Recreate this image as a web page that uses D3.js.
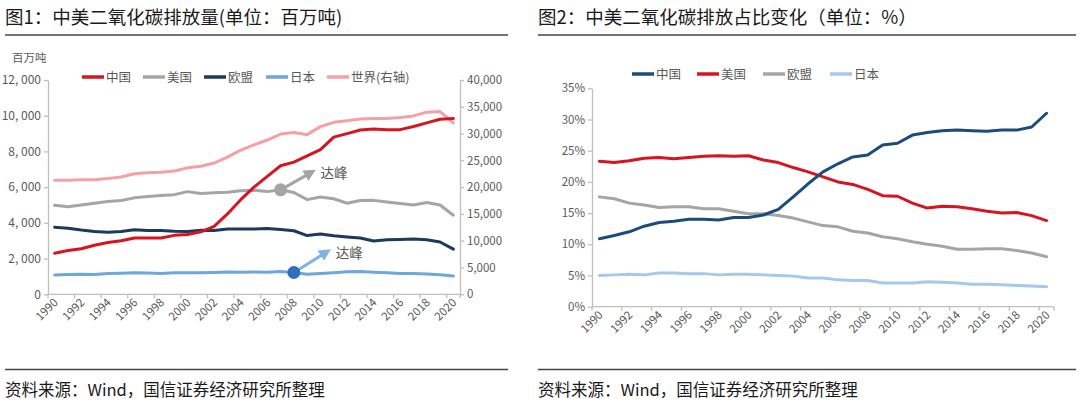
<!DOCTYPE html>
<html>
<head>
<meta charset="utf-8">
<script src="https://cdn.jsdelivr.net/npm/d3@7"></script>
<style>
  body { margin: 0; background: #fff; }
  text { font-family: "Noto Sans CJK SC", "Noto Sans", sans-serif; }
</style>
</head>
<body>
<div id="container"></div>
<script>
// ---- data ----
let years = d3.range(1990, 2021);

// chart 1, million tonnes
let chinaMt = [2300, 2450, 2550, 2750, 2900, 3000, 3150, 3150, 3150, 3300, 3350, 3500, 3800, 4500, 5300, 6000,
  6600, 7200, 7400, 7750, 8100, 8800, 9000, 9200, 9250, 9220, 9220, 9400, 9600, 9800, 9850];
let usMt = [4980, 4900, 5000, 5100, 5200, 5250, 5400, 5480, 5530, 5580, 5750, 5650, 5680, 5720, 5800, 5830,
  5750, 5850, 5700, 5300, 5450, 5350, 5100, 5250, 5260, 5170, 5080, 5000, 5140, 5000, 4430];
let euMt = [3760, 3700, 3600, 3520, 3480, 3520, 3610, 3570, 3570, 3530, 3520, 3580, 3570, 3660, 3660, 3650,
  3680, 3630, 3560, 3290, 3380, 3280, 3210, 3150, 2980, 3050, 3070, 3100, 3060, 2930, 2530];
let japanMt = [1080, 1110, 1120, 1110, 1170, 1180, 1200, 1190, 1160, 1200, 1210, 1200, 1220, 1250, 1240, 1250,
  1230, 1270, 1220, 1120, 1170, 1210, 1260, 1270, 1230, 1200, 1170, 1160, 1130, 1100, 1020];
let worldMt = [21300, 21300, 21400, 21400, 21600, 21900, 22500, 22700, 22800, 23000, 23600, 23900, 24500, 25600, 26900, 27900,
  28800, 29900, 30200, 29800, 31300, 32100, 32400, 32700, 32800, 32800, 33000, 33300, 34000, 34100, 32000];

// chart 2, share of world (%)
let chinaPct = [10.9, 11.4, 12.0, 12.9, 13.5, 13.7, 14.0, 14.0, 13.9, 14.3, 14.3, 14.7, 15.6, 17.6, 19.7, 21.6,
  22.9, 24.0, 24.3, 25.9, 26.2, 27.5, 27.9, 28.2, 28.3, 28.2, 28.1, 28.3, 28.3, 28.8, 31.0];
let usPct = [23.3, 23.1, 23.4, 23.8, 23.9, 23.7, 23.9, 24.1, 24.2, 24.1, 24.2, 23.5, 23.1, 22.3, 21.6, 20.8,
  20.0, 19.6, 18.8, 17.8, 17.7, 16.6, 15.8, 16.1, 16.0, 15.7, 15.3, 15.0, 15.1, 14.6, 13.8];
let euPct = [17.6, 17.3, 16.6, 16.3, 15.9, 16.0, 16.0, 15.7, 15.7, 15.3, 14.9, 14.9, 14.6, 14.2, 13.6, 13.0,
  12.8, 12.1, 11.8, 11.2, 10.9, 10.4, 10.0, 9.7, 9.2, 9.2, 9.3, 9.3, 9.0, 8.6, 8.0];
let japanPct = [5.0, 5.1, 5.2, 5.1, 5.4, 5.4, 5.3, 5.3, 5.1, 5.2, 5.2, 5.1, 5.0, 4.9, 4.6, 4.6,
  4.3, 4.2, 4.2, 3.8, 3.8, 3.8, 4.0, 3.9, 3.8, 3.6, 3.6, 3.5, 3.4, 3.3, 3.2];

let leftTicks = [0, 2000, 4000, 6000, 8000, 10000, 12000];
let rightTicks = [0, 5000, 10000, 15000, 20000, 25000, 30000, 35000, 40000];
let pctTicks = [0, 5, 10, 15, 20, 25, 30, 35];

let title1 = "图1：中美二氧化碳排放量(单位：百万吨)";
let title2 = "图2：中美二氧化碳排放占比变化（单位：%）";
let source = "资料来源：Wind，国信证券经济研究所整理";
let peakLabel = "达峰";

let w = 1080;
let h = 406;
let axisGray = "#bfbfbf";
let labelGray = "#595959";

let svg = d3.select("#container")
  .append("svg")
    .attr("width", w)
    .attr("height", h)
    .style("background-color", "#fff");

// frames: titles, rules, source
function frame(x0, x1, title) {
  svg.append("text").attr("x", x0).attr("y", 24)
    .attr("font-size", 18.5).attr("fill", "#1a1a1a").text(title);
  svg.append("line").attr("x1", x0).attr("x2", x1).attr("y1", 35).attr("y2", 35)
    .attr("stroke", "#444").attr("stroke-width", 1.3);
  svg.append("line").attr("x1", x0).attr("x2", x1).attr("y1", 369.5).attr("y2", 369.5)
    .attr("stroke", "#444").attr("stroke-width", 1.3);
  svg.append("text").attr("x", x0).attr("y", 396)
    .attr("font-size", 16.5).attr("fill", "#1a1a1a").text(source);
}
frame(5, 508, title1);
frame(538, 1076, title2);

function xAxis(g, x, y0) {
  let [r0, r1] = x.range();
  g.append("line").attr("x1", r0).attr("x2", r1).attr("y1", y0).attr("y2", y0)
    .attr("stroke", axisGray).attr("stroke-width", 1.3);
  years.forEach((yr, i) => {
    if (i % 2 == 0) {
      let bx = x(yr);
      g.append("line").attr("x1", bx).attr("x2", bx).attr("y1", y0).attr("y2", y0 + 4)
        .attr("stroke", axisGray).attr("stroke-width", 1.3);
      let cx = x(yr) + x.bandwidth() / 2;
      g.append("text")
        .attr("transform", `translate(${cx + 4},${y0 + 9}) rotate(-45)`)
        .attr("text-anchor", "end")
        .attr("font-family", "Liberation Sans")
        .attr("font-size", 11.5)
        .attr("fill", labelGray)
        .text(yr);
    }
  });
  g.append("line").attr("x1", r1).attr("x2", r1).attr("y1", y0).attr("y2", y0 + 4)
    .attr("stroke", axisGray).attr("stroke-width", 1.3);
}

function styleAxis(g) {
  g.select(".domain").attr("stroke", axisGray).attr("stroke-width", 1.3);
  g.selectAll(".tick line").attr("stroke", axisGray).attr("stroke-width", 1.3);
  g.selectAll(".tick text").attr("fill", labelGray);
}

function legend(g, items, x0, y0, gaps) {
  let xx = x0;
  items.forEach((it, i) => {
    g.append("line").attr("x1", xx).attr("x2", xx + 22).attr("y1", y0).attr("y2", y0)
      .attr("stroke", it.color).attr("stroke-width", 3.5);
    g.append("text").attr("x", xx + 24).attr("y", y0 + 4.5)
      .attr("font-size", 12.5).attr("fill", labelGray).text(it.name);
    xx += gaps[i];
  });
}

function drawLine(g, x, y, values, color) {
  let line = d3.line()
    .x((d, i) => x(years[i]) + x.bandwidth() / 2)
    .y(d => y(d));
  g.append("path").datum(values)
    .attr("d", line)
    .attr("fill", "none")
    .attr("stroke", color)
    .attr("stroke-width", 3)
    .attr("stroke-linejoin", "round")
    .attr("stroke-linecap", "round");
}

// ---------- chart 1 ----------
let c1 = svg.append("g");
let x1 = d3.scaleBand().domain(years).range([48, 460]);
let yL = d3.scaleLinear().domain([0, 12000]).range([294.3, 80]);
let yR = d3.scaleLinear().domain([0, 40000]).range([294.3, 80]);

let leftAx = c1.append("g").attr("transform", "translate(48,0)")
  .call(d3.axisLeft(yL).tickValues(leftTicks).tickSize(4).tickSizeOuter(0)
    .tickFormat(d => d3.format(",")(d).replace(",", ", ")))
  .call(styleAxis);
leftAx.selectAll(".tick text").attr("font-size", 12).attr("font-family", "Noto Sans CJK SC");

let rightAx = c1.append("g").attr("transform", "translate(460,0)")
  .call(d3.axisRight(yR).tickValues(rightTicks).tickSize(4).tickSizeOuter(0)
    .tickFormat(d3.format(",")))
  .call(styleAxis);
rightAx.selectAll(".tick text").attr("font-size", 11.5).attr("font-family", "Liberation Sans");

xAxis(c1, x1, 294.3);

c1.append("text").attr("x", 12).attr("y", 62).attr("font-size", 11.5)
  .attr("fill", labelGray).text("百万吨");

let colChina1 = "#d7141f", colUS1 = "#a5a5a5", colEU1 = "#1b3a5c", colJP1 = "#6fa6dc", colWorld = "#f5a0a6";
drawLine(c1, x1, yR, worldMt, colWorld);
drawLine(c1, x1, yL, japanMt, colJP1);
drawLine(c1, x1, yL, euMt, colEU1);
drawLine(c1, x1, yL, usMt, colUS1);
drawLine(c1, x1, yL, chinaMt, colChina1);

legend(c1, [
  {name: "中国", color: colChina1},
  {name: "美国", color: colUS1},
  {name: "欧盟", color: colEU1},
  {name: "日本", color: colJP1},
  {name: "世界(右轴)", color: colWorld}
], 82, 77, [61, 61, 62, 61, 0]);

// peak markers
function peak(g, x, y, yr, val, fill, arrowColor, dx, dy, id) {
  let px = x(yr) + x.bandwidth() / 2, py = y(val);
  g.append("defs").append("marker")
    .attr("id", id).attr("viewBox", "0 0 10 10").attr("refX", 5).attr("refY", 5)
    .attr("markerWidth", 4).attr("markerHeight", 4).attr("orient", "auto")
    .append("path").attr("d", "M0,0L10,5L0,10z").attr("fill", arrowColor);
  g.append("line").attr("x1", px).attr("y1", py).attr("x2", px + dx).attr("y2", py + dy)
    .attr("stroke", arrowColor).attr("stroke-width", 3)
    .attr("marker-end", `url(#${id})`);
  g.append("circle").attr("cx", px).attr("cy", py).attr("r", 6.5).attr("fill", fill);
  g.append("text").attr("x", px + dx + 10).attr("y", py + dy + 5)
    .attr("font-size", 13.5).attr("fill", labelGray).text(peakLabel);
}
peak(c1, x1, yL, 2007, usMt[17], "#a5a5a5", "#a5a5a5", 30, -17, "arrG");
peak(c1, x1, yL, 2008, japanMt[18], "#2e6fb5", "#7fb2e5", 32, -20, "arrB");

// ---------- chart 2 ----------
let c2 = svg.append("g");
let x2 = d3.scaleBand().domain(years).range([592, 1054]);
let y2 = d3.scaleLinear().domain([0, 35]).range([306.7, 88.3]);

let pctAx = c2.append("g").attr("transform", "translate(592,0)")
  .call(d3.axisLeft(y2).tickValues(pctTicks).tickSize(4).tickSizeOuter(0)
    .tickFormat(d => d + "%"))
  .call(styleAxis);
pctAx.selectAll(".tick text").attr("font-size", 11.5).attr("font-family", "Liberation Sans");

xAxis(c2, x2, 306.7);

let colChina2 = "#1c4c7c", colUS2 = "#d7141f", colEU2 = "#a5a5a5", colJP2 = "#a6c8ea";
drawLine(c2, x2, y2, japanPct, colJP2);
drawLine(c2, x2, y2, euPct, colEU2);
drawLine(c2, x2, y2, usPct, colUS2);
drawLine(c2, x2, y2, chinaPct, colChina2);

legend(c2, [
  {name: "中国", color: colChina2},
  {name: "美国", color: colUS2},
  {name: "欧盟", color: colEU2},
  {name: "日本", color: colJP2}
], 632, 74, [65, 66, 67, 0]);
</script>
</body>
</html>
